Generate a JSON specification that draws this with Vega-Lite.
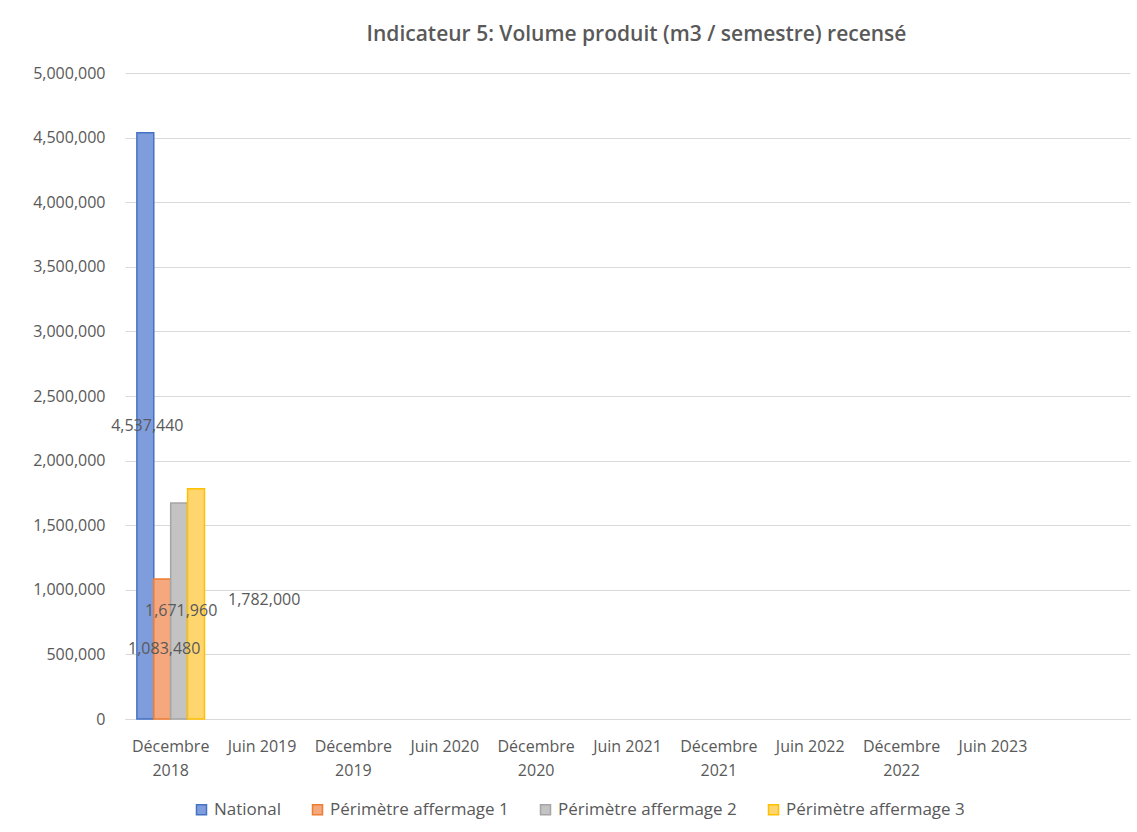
{
  "$schema": "https://vega.github.io/schema/vega-lite/v6.json",
  "autosize": {"type": "none"},
  "width": 1005,
  "height": 646,
  "padding": {"left": 125, "top": 73, "right": 7, "bottom": 113},
  "background": "white",
  "title": {
    "text": "Indicateur 5: Volume produit (m3 / semestre) recensé",
    "font": "Open Sans",
    "fontSize": 21,
    "fontWeight": 600,
    "color": "#595959",
    "anchor": "middle",
    "dx": 9,
    "offset": 20
  },
  "data": {
    "values": [
      {"periode": "Décembre 2018", "serie": "National", "volume": 4537440},
      {"periode": "Décembre 2018", "serie": "Périmètre affermage 1", "volume": 1083480},
      {"periode": "Décembre 2018", "serie": "Périmètre affermage 2", "volume": 1671960},
      {"periode": "Décembre 2018", "serie": "Périmètre affermage 3", "volume": 1782000}
    ]
  },
  "encoding": {
    "x": {
      "field": "periode",
      "type": "nominal",
      "sort": null,
      "scale": {
        "domain": ["Décembre 2018", "Juin 2019", "Décembre 2019", "Juin 2020", "Décembre 2020", "Juin 2021", "Décembre 2021", "Juin 2022", "Décembre 2022", "Juin 2023", "Décembre 2023"],
        "paddingInner": 0.26,
        "paddingOuter": 0.13
      },
      "axis": {
        "title": null,
        "labelAngle": 0,
        "labelExpr": "datum.label == 'Décembre 2023' ? '' : (indexof(datum.label, 'Décembre') == 0 ? split(datum.label, ' ') : datum.label)",
        "labelFont": "Open Sans",
        "labelFontSize": 16,
        "labelColor": "#595959",
        "labelPadding": 19,
        "labelLineHeight": 24,
        "labelOverlap": false,
        "ticks": false,
        "domainColor": "#d9d9d9",
        "grid": false
      }
    },
    "xOffset": {"field": "serie", "type": "nominal", "scale": {"paddingInner": 0, "paddingOuter": 0}}
  },
  "layer": [
    {
      "mark": {"type": "bar", "strokeWidth": 1.5},
      "encoding": {
        "y": {
          "field": "volume",
          "type": "quantitative",
          "scale": {"domain": [0, 5000000]},
          "axis": {
            "title": null,
            "values": [0, 500000, 1000000, 1500000, 2000000, 2500000, 3000000, 3500000, 4000000, 4500000, 5000000],
            "format": ",d",
            "labelFont": "Open Sans",
            "labelFontSize": 16,
            "labelColor": "#595959",
            "labelPadding": 20,
            "labelOverlap": false,
            "ticks": false,
            "domain": false,
            "gridColor": "#d9d9d9",
            "gridWidth": 1
          }
        },
        "fill": {
          "field": "serie",
          "type": "nominal",
          "scale": {
            "domain": ["National", "Périmètre affermage 1", "Périmètre affermage 2", "Périmètre affermage 3"],
            "range": ["#7F9DDC", "#F5A77E", "#C3C3C3", "#FFD56E"]
          },
          "legend": {
            "title": null,
            "orient": "none",
            "legendX": 68,
            "legendY": 728,
            "direction": "horizontal",
            "symbolType": "square",
            "symbolSize": 100,
            "labelFont": "Open Sans",
            "labelFontSize": 17,
            "labelColor": "#595959",
            "labelOffset": 4,
            "labelLimit": 400,
            "columnPadding": 28
          }
        },
        "stroke": {
          "field": "serie",
          "type": "nominal",
          "scale": {
            "domain": ["National", "Périmètre affermage 1", "Périmètre affermage 2", "Périmètre affermage 3"],
            "range": ["#4472C4", "#ED7D31", "#A5A5A5", "#FFC000"]
          },
          "legend": {
            "title": null,
            "orient": "none",
            "legendX": 68,
            "legendY": 728,
            "direction": "horizontal",
            "symbolType": "square",
            "symbolSize": 100,
            "labelFont": "Open Sans",
            "labelFontSize": 17,
            "labelColor": "#595959",
            "labelOffset": 4,
            "labelLimit": 400,
            "columnPadding": 28
          }
        }
      }
    },
    {
      "transform": [
        {"filter": "datum.serie != 'Périmètre affermage 3'"},
        {"calculate": "datum.volume / 2", "as": "milieu"}
      ],
      "mark": {"type": "text", "font": "Open Sans", "fontSize": 16, "color": "#595959", "baseline": "middle", "dx": 2},
      "encoding": {
        "y": {
          "field": "milieu",
          "type": "quantitative",
          "scale": {"domain": [0, 5000000]},
          "axis": {
            "title": null,
            "values": [0, 500000, 1000000, 1500000, 2000000, 2500000, 3000000, 3500000, 4000000, 4500000, 5000000],
            "format": ",d",
            "labelFont": "Open Sans",
            "labelFontSize": 16,
            "labelColor": "#595959",
            "labelPadding": 20,
            "labelOverlap": false,
            "ticks": false,
            "domain": false,
            "gridColor": "#d9d9d9",
            "gridWidth": 1
          }
        },
        "text": {"field": "volume", "type": "quantitative", "format": ",d"}
      }
    },
    {
      "transform": [
        {"filter": "datum.serie == 'Périmètre affermage 3'"},
        {"calculate": "datum.volume / 2", "as": "milieu"}
      ],
      "mark": {"type": "text", "font": "Open Sans", "fontSize": 16, "color": "#595959", "baseline": "middle", "align": "left", "dx": 32, "dy": -4},
      "encoding": {
        "y": {
          "field": "milieu",
          "type": "quantitative",
          "scale": {"domain": [0, 5000000]},
          "axis": {
            "title": null,
            "values": [0, 500000, 1000000, 1500000, 2000000, 2500000, 3000000, 3500000, 4000000, 4500000, 5000000],
            "format": ",d",
            "labelFont": "Open Sans",
            "labelFontSize": 16,
            "labelColor": "#595959",
            "labelPadding": 20,
            "labelOverlap": false,
            "ticks": false,
            "domain": false,
            "gridColor": "#d9d9d9",
            "gridWidth": 1
          }
        },
        "text": {"field": "volume", "type": "quantitative", "format": ",d"}
      }
    }
  ],
  "config": {"view": {"stroke": null}}
}
